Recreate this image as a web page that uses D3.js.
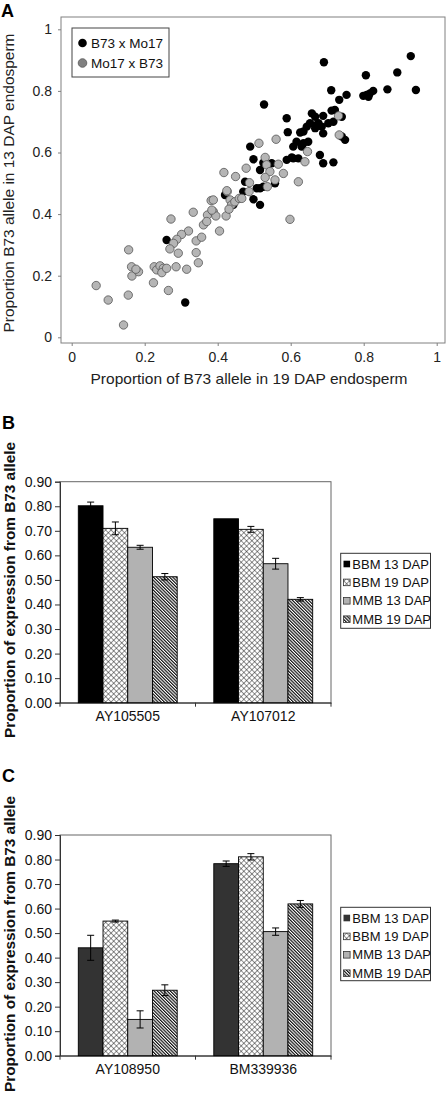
<!DOCTYPE html>
<html><head><meta charset="utf-8">
<script src="https://cdn.jsdelivr.net/npm/d3@7"></script>
<style>body{margin:0;background:#fff}svg{display:block;font-family:Arial,"Liberation Sans",sans-serif}</style>
</head><body><svg id="c" width="448" height="1097"></svg>
<script>
// ---------- Panel A data ----------
const crossB73Mo17 = [[0.929,0.913],[0.691,0.893],[0.892,0.860],[0.806,0.851],[0.943,0.803],[0.865,0.805],[0.711,0.802],[0.799,0.784],[0.808,0.787],[0.817,0.792],[0.826,0.800],[0.813,0.781],[0.753,0.787],[0.733,0.771],[0.527,0.756],[0.589,0.711],[0.592,0.666],[0.420,0.462],[0.260,0.316],[0.311,0.113],[0.717,0.568],[0.689,0.565],[0.658,0.727],[0.689,0.719],[0.712,0.736],[0.721,0.738],[0.740,0.716],[0.653,0.695],[0.676,0.695],[0.703,0.695],[0.717,0.700],[0.667,0.679],[0.689,0.662],[0.635,0.668],[0.644,0.684],[0.749,0.641],[0.740,0.652],[0.616,0.635],[0.635,0.630],[0.648,0.635],[0.607,0.619],[0.630,0.619],[0.680,0.592],[0.607,0.581],[0.621,0.581],[0.489,0.619],[0.626,0.665],[0.671,0.689],[0.589,0.576],[0.603,0.584],[0.498,0.578],[0.525,0.567],[0.548,0.565],[0.516,0.543],[0.475,0.505],[0.507,0.484],[0.516,0.484],[0.525,0.489],[0.557,0.500],[0.498,0.448],[0.516,0.430],[0.470,0.473],[0.443,0.430],[0.667,0.716],[0.685,0.684]];
const crossMo17B73 = [[0.067,0.168],[0.100,0.121],[0.142,0.040],[0.156,0.284],[0.155,0.137],[0.164,0.229],[0.165,0.199],[0.183,0.213],[0.176,0.221],[0.224,0.177],[0.226,0.229],[0.233,0.219],[0.242,0.232],[0.251,0.224],[0.247,0.210],[0.260,0.224],[0.265,0.152],[0.286,0.229],[0.292,0.273],[0.272,0.384],[0.333,0.406],[0.382,0.444],[0.372,0.397],[0.388,0.408],[0.395,0.394],[0.361,0.365],[0.370,0.376],[0.423,0.394],[0.405,0.345],[0.426,0.473],[0.434,0.446],[0.438,0.430],[0.431,0.416],[0.447,0.440],[0.459,0.451],[0.486,0.473],[0.320,0.345],[0.301,0.334],[0.288,0.318],[0.279,0.305],[0.269,0.287],[0.341,0.313],[0.356,0.325],[0.341,0.275],[0.347,0.242],[0.315,0.221],[0.513,0.630],[0.560,0.643],[0.417,0.535],[0.449,0.522],[0.478,0.549],[0.530,0.584],[0.534,0.560],[0.543,0.538],[0.566,0.562],[0.580,0.532],[0.621,0.505],[0.646,0.603],[0.639,0.570],[0.487,0.502],[0.530,0.519],[0.536,0.489],[0.557,0.511],[0.466,0.451],[0.425,0.476],[0.388,0.446],[0.384,0.413],[0.598,0.383],[0.731,0.719],[0.733,0.657]];
const scatterTicks = [0,0.2,0.4,0.6,0.8,1];
const scatterLegend = ["B73 x Mo17","Mo17 x B73"];

// ---------- Panels B & C data ----------
const seriesNames = ["BBM 13 DAP","BBM 19 DAP","MMB 13 DAP","MMB 19 DAP"];
const genesB = ["AY105505","AY107012"];
const valuesB = [[0.802,0.710,0.633,0.513],[0.749,0.706,0.566,0.421]];
const errorsB = [[0.015,0.026,0.008,0.013],[0,0.012,0.022,0.007]];
const genesC = ["AY108950","BM339936"];
const valuesC = [[0.440,0.549,0.148,0.267],[0.783,0.811,0.506,0.619]];
const errorsC = [[0.051,0.004,0.035,0.022],[0.011,0.013,0.015,0.014]];
const barTicks = [0,0.1,0.2,0.3,0.4,0.5,0.6,0.7,0.8,0.9];

const svg = d3.select("#c");
const defs = svg.append("defs");
const cross = defs.append("pattern").attr("id","cross").attr("patternUnits","userSpaceOnUse")
  .attr("width",3.8).attr("height",3.8).attr("patternTransform","rotate(45)");
cross.append("rect").attr("width",3.8).attr("height",3.8).attr("fill","#fff");
cross.append("line").attr("x1",0).attr("y1",0).attr("x2",3.8).attr("y2",0).attr("stroke","#111").attr("stroke-width",0.9);
cross.append("line").attr("x1",0).attr("y1",0).attr("x2",0).attr("y2",3.8).attr("stroke","#111").attr("stroke-width",0.9);
const hatch = defs.append("pattern").attr("id","hatch").attr("patternUnits","userSpaceOnUse")
  .attr("width",2.3).attr("height",4).attr("patternTransform","rotate(-45)");
hatch.append("rect").attr("width",2.3).attr("height",4).attr("fill","#fff");
hatch.append("line").attr("x1",0.6).attr("y1",0).attr("x2",0.6).attr("y2",4).attr("stroke","#111").attr("stroke-width",1.2);

// ---------- Panel A ----------
const ax = d3.scaleLinear().domain([0,1]).range([71.7,436.7]);
const ay = d3.scaleLinear().domain([0,1]).range([337.3,29.3]);
const A = svg.append("g");
A.append("text").attr("x",1).attr("y",17).attr("font-size",18).attr("font-weight","bold").text("A");
A.append("rect").attr("x",61).attr("y",17).attr("width",384).attr("height",326).attr("fill","none").attr("stroke","#808080");
const gxA = A.append("g").attr("transform","translate(0,343)")
  .call(d3.axisBottom(ax).tickValues(scatterTicks).tickFormat(d3.format("")).tickSize(3).tickPadding(6));
const gyA = A.append("g").attr("transform","translate(61,0)")
  .call(d3.axisLeft(ay).tickValues(scatterTicks).tickFormat(d3.format("")).tickSize(3).tickPadding(6));
[gxA,gyA].forEach(g=>{g.select(".domain").remove();g.selectAll("line").attr("stroke","#808080");
  g.selectAll("text").attr("font-size",14).attr("fill","#222").attr("font-family","Arial,'Liberation Sans',sans-serif");});
A.append("text").attr("x",249).attr("y",384).attr("text-anchor","middle").attr("font-size",14.3).attr("fill","#222")
  .attr("textLength",317).attr("lengthAdjust","spacingAndGlyphs")
  .text("Proportion of B73 allele in 19 DAP endosperm");
A.append("text").attr("transform","translate(14,183) rotate(-90)").attr("text-anchor","middle").attr("font-size",14.3).attr("fill","#222")
  .attr("textLength",299).attr("lengthAdjust","spacingAndGlyphs")
  .text("Proportion B73 allele in 13 DAP endosperm");
A.append("g").selectAll("circle").data(crossB73Mo17).join("circle")
  .attr("cx",d=>ax(d[0])).attr("cy",d=>ay(d[1])).attr("r",4.2).attr("fill","#000");
A.append("g").selectAll("circle").data(crossMo17B73).join("circle")
  .attr("cx",d=>ax(d[0])).attr("cy",d=>ay(d[1])).attr("r",4.2).attr("fill","#b5b5b5").attr("stroke","#555").attr("stroke-width",0.8);
const legA = A.append("g");
legA.append("rect").attr("x",72).attr("y",28).attr("width",97).attr("height",49).attr("fill","#fff").attr("stroke","#444");
scatterLegend.forEach((t,i)=>{
  legA.append("circle").attr("cx",82.5).attr("cy",43+i*20).attr("r",4.3)
    .attr("fill",i?"#808080":"#000").attr("stroke",i?"#555":"none").attr("stroke-width",0.8);
  legA.append("text").attr("x",91).attr("y",48+i*20).attr("font-size",13.5).attr("fill","#111").text(t);
});

// ---------- Bar panels ----------
function barPanel(letter, genes, values, errors, top, bottom, firstFill, legTop, legH, titleY, letterY){
  const g = svg.append("g");
  const x0 = d3.scaleBand().domain(genes).range([60,331]);
  const x1 = d3.scaleBand().domain(seriesNames).range([0,x0.bandwidth()]).paddingOuter(0.74);
  const y = d3.scaleLinear().domain([0,0.9]).range([bottom,top]);
  const fills = [firstFill,"url(#cross)","#b2b2b2","url(#hatch)"];
  g.append("text").attr("x",2).attr("y",letterY).attr("font-size",18).attr("font-weight","bold").text(letter);
  g.append("rect").attr("x",60).attr("y",top).attr("width",271).attr("height",bottom-top).attr("fill","none").attr("stroke","#666");
  const gy = g.append("g").attr("transform","translate(60,0)")
    .call(d3.axisLeft(y).tickValues(barTicks).tickFormat(d3.format(".2f")).tickSize(5).tickPadding(3));
  gy.select(".domain").attr("stroke","#333");
  gy.selectAll("line").attr("stroke","#333");
  gy.selectAll("text").attr("font-size",14).attr("fill","#111").attr("font-family","Arial,'Liberation Sans',sans-serif");
  const gx = g.append("g").attr("transform",`translate(0,${bottom})`)
    .call(d3.axisBottom(x0).tickSize(0).tickPadding(8));
  gx.select(".domain").attr("stroke","#333");
  gx.selectAll("text").attr("font-size",14).attr("fill","#111").attr("font-family","Arial,'Liberation Sans',sans-serif");
  const bounds = [60].concat(genes.map(d=>x0(d)+x0.bandwidth()));
  g.append("g").selectAll("line").data(bounds).join("line")
    .attr("x1",d=>d).attr("x2",d=>d).attr("y1",bottom).attr("y2",bottom+4).attr("stroke","#333");
  genes.forEach((gene,gi)=>{
    const grp = g.append("g").attr("transform",`translate(${x0(gene)},0)`);
    seriesNames.forEach((s,si)=>{
      const v = values[gi][si], e = errors[gi][si];
      const bx = x1(s), bw = x1.bandwidth();
      grp.append("rect").attr("x",bx).attr("y",y(v)).attr("width",bw).attr("height",bottom-y(v))
        .attr("fill",fills[si]).attr("stroke","#000").attr("stroke-width",0.9);
      if(e>0){
        const cx = bx+bw/2;
        grp.append("line").attr("x1",cx).attr("x2",cx).attr("y1",y(v+e)).attr("y2",y(v-e)).attr("stroke","#000");
        [v+e,v-e].forEach(w=>grp.append("line").attr("x1",cx-3.5).attr("x2",cx+3.5).attr("y1",y(w)).attr("y2",y(w)).attr("stroke","#000"));
      }
    });
  });
  g.append("text").attr("transform",`translate(14.5,${titleY}) rotate(-90)`).attr("text-anchor","middle")
    .attr("font-size",15.2).attr("font-weight","bold").attr("fill","#111")
    .attr("textLength",296).attr("lengthAdjust","spacingAndGlyphs")
    .text("Proportion of expression from B73 allele");
  const leg = g.append("g");
  leg.append("rect").attr("x",340.7).attr("y",legTop).attr("width",89.8).attr("height",legH).attr("fill","#fff").attr("stroke","#333");
  seriesNames.forEach((s,si)=>{
    const ry = legTop+10.7+si*18.4;
    leg.append("rect").attr("x",343.5).attr("y",ry-3.3).attr("width",6.6).attr("height",6.6)
      .attr("fill",fills[si]).attr("stroke",si===0?"none":"#333").attr("stroke-width",0.8);
    leg.append("text").attr("x",352.3).attr("y",ry).attr("dy","0.36em").attr("font-size",13).attr("fill","#111").text(s);
  });
}
barPanel("B", genesB, valuesB, errorsB, 481.7, 702.7, "#000", 553.3, 75, 590, 429);
barPanel("C", genesC, valuesC, errorsC, 835, 1055.7, "#333", 907.3, 73.4, 944, 782);
</script></body></html>
